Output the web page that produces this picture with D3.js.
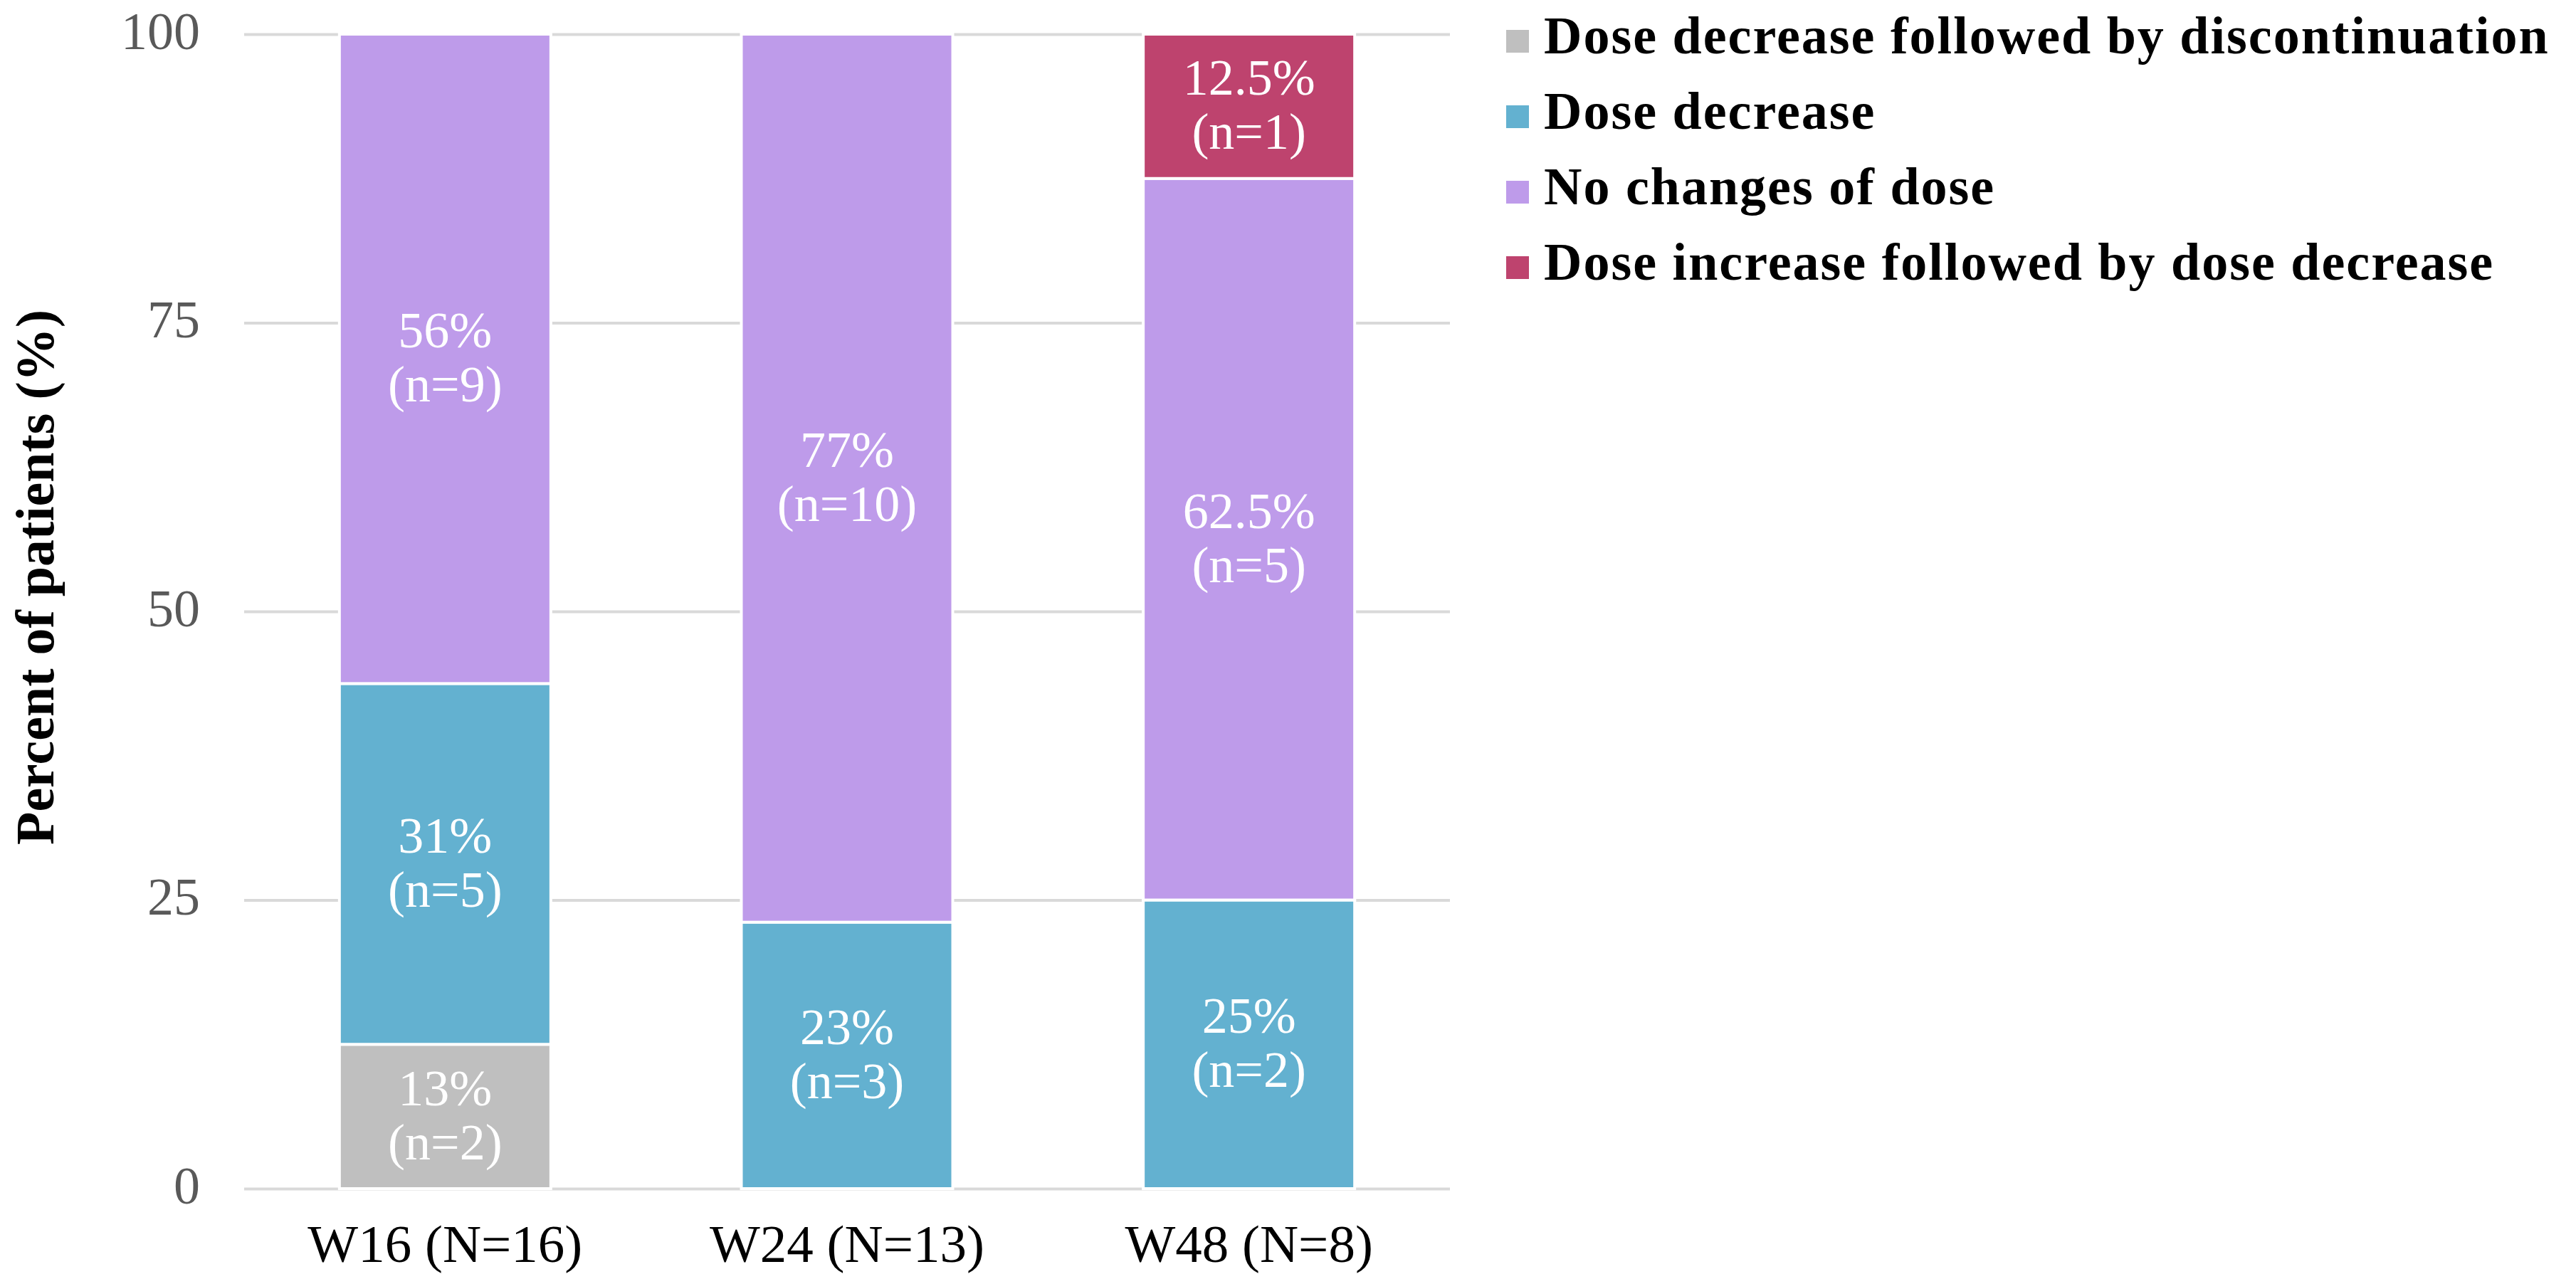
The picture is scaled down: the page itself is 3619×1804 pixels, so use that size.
<!DOCTYPE html>
<html>
<head>
<meta charset="utf-8">
<script src="https://cdn.jsdelivr.net/npm/d3@7"></script>
<style>
  body { margin: 0; background: #fff; }
  text { font-family: "Liberation Serif", "Times New Roman", serif; }
</style>
</head>
<body>
<svg id="chart" width="3619" height="1804"></svg>
<script>
// chart data
var CATEGORIES = ["W16 (N=16)", "W24 (N=13)", "W48 (N=8)"];
var SERIES = ["Dose decrease followed by discontinuation", "Dose decrease",
              "No changes of dose", "Dose increase followed by dose decrease"];
var COLORS = ["#BFBFBF", "#63B1D0", "#BE9BEA", "#BE436E"];
var PCT_DISC     = [12.5, 0, 0];
var PCT_DECREASE = [31.25, 23.08, 25];
var PCT_NOCHANGE = [56.25, 76.92, 62.5];
var PCT_INCREASE = [0, 0, 12.5];
var LBL_DISC     = ["13%", "", ""];
var LBL_DECREASE = ["31%", "23%", "25%"];
var LBL_NOCHANGE = ["56%", "77%", "62.5%"];
var LBL_INCREASE = ["", "", "12.5%"];
var N_DISC     = [2, 0, 0];
var N_DECREASE = [5, 3, 2];
var N_NOCHANGE = [9, 10, 5];
var N_INCREASE = [0, 0, 1];
var Y_TICKS = [0, 25, 50, 75, 100];

var PCTS = [PCT_DISC, PCT_DECREASE, PCT_NOCHANGE, PCT_INCREASE];
var LBLS = [LBL_DISC, LBL_DECREASE, LBL_NOCHANGE, LBL_INCREASE];
var NS = [N_DISC, N_DECREASE, N_NOCHANGE, N_INCREASE];

var rows = CATEGORIES.map(function (c, i) {
    var r = {cat: c};
    for (var s = 0; s < SERIES.length; s++) r[SERIES[s]] = PCTS[s][i];
    return r;
});

var plotLeft = 343, plotRight = 2037, plotTop = 48, plotBottom = 1670;

var svg = d3.select("#chart");
svg.append("rect").attr("width", 3619).attr("height", 1804).attr("fill", "#fff");

var x = d3.scaleBand().domain(CATEGORIES).range([plotLeft, plotRight])
    .paddingInner(0.474).paddingOuter(0.237);
var y = d3.scaleLinear().domain([0, 100]).range([plotBottom, plotTop]);

// y axis + gridlines
var yAxis = svg.append("g")
    .attr("transform", "translate(" + plotLeft + ",0)")
    .call(d3.axisLeft(y).tickValues(Y_TICKS).tickSize(-(plotRight - plotLeft)).tickPadding(62));
yAxis.select(".domain").remove();
yAxis.selectAll("line").attr("stroke", "#D9D9D9").attr("stroke-width", 4);
yAxis.selectAll("text")
    .attr("dy", "20px")
    .style("font-size", "74px")
    .attr("fill", "#595959");

// x axis labels
var xAxis = svg.append("g")
    .attr("transform", "translate(0," + plotBottom + ")")
    .call(d3.axisBottom(x).tickSize(0).tickPadding(50));
xAxis.select(".domain").remove();
xAxis.selectAll("text")
    .style("font-size", "75px")
    .attr("fill", "#000");

// stacked bars
var stacked = d3.stack().keys(SERIES)(rows);

var layers = svg.append("g").selectAll("g")
    .data(stacked)
    .enter().append("g")
    .attr("fill", function (d, i) { return COLORS[i]; });

layers.selectAll("rect")
    .data(function (d) { return d.filter(function (v) { return v[1] - v[0] > 0; }); })
    .enter().append("rect")
    .attr("x", function (d) { return x(d.data.cat); })
    .attr("width", x.bandwidth())
    .attr("y", function (d) { return y(d[1]); })
    .attr("height", function (d) { return y(d[0]) - y(d[1]); })
    .attr("stroke", "#fff")
    .attr("stroke-width", 4);

// data labels
var labels = svg.append("g").attr("fill", "#fff").style("font-size", "72px");
stacked.forEach(function (layer, s) {
    layer.forEach(function (d, i) {
        if (d[1] - d[0] <= 0) return;
        var cx = x(d.data.cat) + x.bandwidth() / 2;
        var cy = (y(d[0]) + y(d[1])) / 2;
        labels.append("text")
            .attr("x", cx).attr("y", cy - 16)
            .attr("text-anchor", "middle")
            .text(LBLS[s][i]);
        labels.append("text")
            .attr("x", cx).attr("y", cy + 60)
            .attr("text-anchor", "middle")
            .text("(n=" + NS[s][i] + ")");
    });
});

// y axis title
svg.append("text")
    .attr("transform", "translate(75,811) rotate(-90)")
    .attr("text-anchor", "middle")
    .style("font-size", "76px")
    .style("font-weight", "bold")
    .attr("fill", "#000")
    .text("Percent of patients (%)");

// legend
var legend = svg.append("g").selectAll("g")
    .data(SERIES)
    .enter().append("g")
    .attr("transform", function (d, i) { return "translate(2116," + (75 + i * 106) + ")"; });
legend.append("rect")
    .attr("x", 0).attr("y", -33)
    .attr("width", 32).attr("height", 32)
    .attr("fill", function (d, i) { return COLORS[i]; });
legend.append("text")
    .attr("x", 53).attr("y", 0)
    .style("font-size", "74px")
    .style("font-weight", "bold")
    .style("letter-spacing", "2px")
    .attr("fill", "#000")
    .text(function (d) { return d; });
</script>
</body>
</html>
